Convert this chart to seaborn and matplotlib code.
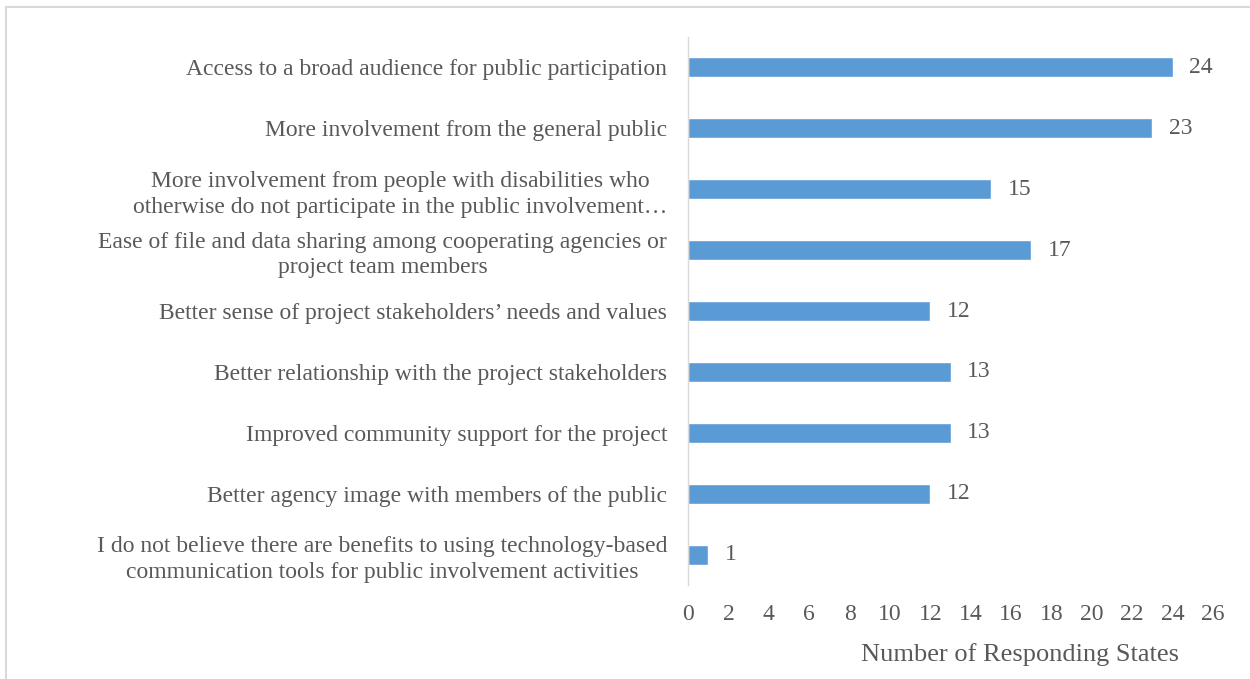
import matplotlib
matplotlib.use("Agg")
import matplotlib.pyplot as plt
import seaborn as sns
import pandas as pd
from matplotlib.patches import Rectangle

# ── data ────────────────────────────────────────────────────────────
benefits = [
    "Access to a broad audience for public participation",
    "More involvement from the general public",
    "More involvement from people with disabilities who\notherwise do not participate in the public involvement\u2026",
    "Ease of file and data sharing among cooperating agencies or\nproject team members",
    "Better sense of project stakeholders\u2019 needs and values",
    "Better relationship with the project stakeholders",
    "Improved community support for the project",
    "Better agency image with members of the public",
    "I do not believe there are benefits to using technology-based\ncommunication tools for public involvement activities",
]
n_states = [24, 23, 15, 17, 12, 13, 13, 12, 1]
x_ticks = list(range(0, 27, 2))

df = pd.DataFrame({"benefit": benefits, "states": n_states})

sns.set_theme(style="white")
plt.rcParams["font.family"] = ["Liberation Serif", "DejaVu Serif"]
text_col = "#595959"
fs = 17

fig = plt.figure(figsize=(12.5, 6.79), dpi=100)
ax = fig.add_axes([0.5504, 0.1384, 0.42, 0.8071])

sns.barplot(data=df, x="states", y="benefit", orient="h",
            color="#5B9BD5", saturation=1, width=0.33, ax=ax)

ax.bar_label(ax.containers[0], padding=12, fontsize=fs, color=text_col)

ax.set_xlim(0, 26)
ax.set_ylim(len(benefits) - 0.5, -0.5)
ax.set_xticks(x_ticks)
ax.tick_params(axis="x", length=0, pad=14, labelsize=fs, labelcolor=text_col)
ax.tick_params(axis="y", length=0, pad=15, labelsize=fs, labelcolor=text_col)
for lbl in ax.get_yticklabels():
    lbl.set_multialignment("center")
    lbl.set_linespacing(1.3)

ax.set_ylabel("")
ax.set_xlabel("Number of Responding States", fontsize=19, color=text_col)
ax.xaxis.set_label_coords(0.632, -0.105)

for side in ["top", "right", "bottom"]:
    ax.spines[side].set_visible(False)
ax.spines["left"].set_color("#D9D9D9")
ax.spines["left"].set_linewidth(1.0)

# outer chart border
fig.patches.append(Rectangle((0.005, -0.01), 1.0, 1.0, transform=fig.transFigure,
                             fill=False, edgecolor="#D9D9D9", linewidth=1.5))

fig.savefig("out.png", dpi=100)
